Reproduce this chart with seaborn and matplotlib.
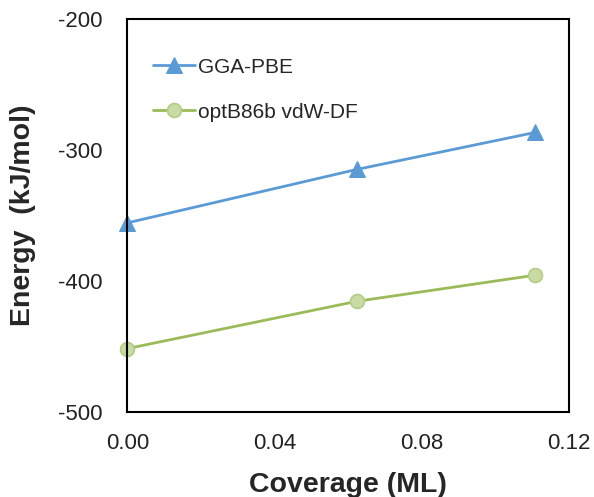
# plot.py - adsorption energy vs coverage

import pandas as pd
import matplotlib
matplotlib.use("Agg")
import matplotlib.pyplot as plt
import seaborn as sns

# Data
coverage = [0.0, 0.0625, 0.111]
gga_pbe = [-355.5, -314.7, -286.5]
optb86b = [-451.4, -415.3, -395.4]
series_names = ["GGA-PBE", "optB86b vdW-DF"]
x_ticks = [0.00, 0.04, 0.08, 0.12]
y_ticks = [-500, -400, -300, -200]

sns.set_style("white")
plt.rcParams["font.family"] = ["Liberation Sans", "DejaVu Sans"]

df = pd.DataFrame({
    "coverage": coverage * 2,
    "energy": gga_pbe + optb86b,
    "method": [series_names[0]] * 3 + [series_names[1]] * 3,
})

fig = plt.figure(figsize=(5.94, 4.97), dpi=100)
ax = fig.add_axes([0.2143, 0.1704, 0.7428, 0.7914])

# one call per series since marker faces differ from the line colour
sns.lineplot(data=df[df.method == series_names[0]], x="coverage", y="energy",
             ax=ax, color="#5B9BD5", linewidth=2, marker="^", markersize=11,
             markerfacecolor="#5B9BD5", markeredgecolor="#5B9BD5",
             label=series_names[0], clip_on=False)
sns.lineplot(data=df[df.method == series_names[1]], x="coverage", y="energy",
             ax=ax, color="#9BBB59", linewidth=2, marker="o", markersize=10,
             markerfacecolor="#C9DBA5", markeredgecolor="#B4CC86",
             markeredgewidth=1.2, label=series_names[1], clip_on=False)

ax.set_xlim(0, 0.12)
ax.set_ylim(-500, -200)
ax.set_xticks(x_ticks)
ax.set_yticks(y_ticks)
ax.set_xticklabels([f"{t:.2f}" for t in x_ticks])
ax.set_yticklabels([str(t) for t in y_ticks])
ax.tick_params(axis="x", direction="in", length=5, width=1.2, labelsize=16, pad=15, colors="black")
ax.tick_params(axis="y", direction="out", length=4, width=1.2, labelsize=16, pad=14, colors="black")
ax.tick_params(axis="both", labelcolor="#222222")

for side in ["left", "right", "top", "bottom"]:
    ax.spines[side].set_visible(True)
    ax.spines[side].set_color("black")
    ax.spines[side].set_linewidth(1.5)

ax.set_xlabel("Coverage (ML)", fontsize=20.5, fontweight="bold")
ax.set_ylabel("Energy  (kJ/mol)", fontsize=20.5, fontweight="bold")
ax.xaxis.set_label_coords(0.5, -0.153)
ax.yaxis.set_label_coords(-0.207, 0.5)

leg = ax.legend(loc="upper left", frameon=False, fontsize=15,
                bbox_to_anchor=(0.058, 0.902), borderaxespad=0, borderpad=0,
                handlelength=2.0, handletextpad=0.15, labelspacing=1.25)

fig.savefig("out.png", dpi=100)
